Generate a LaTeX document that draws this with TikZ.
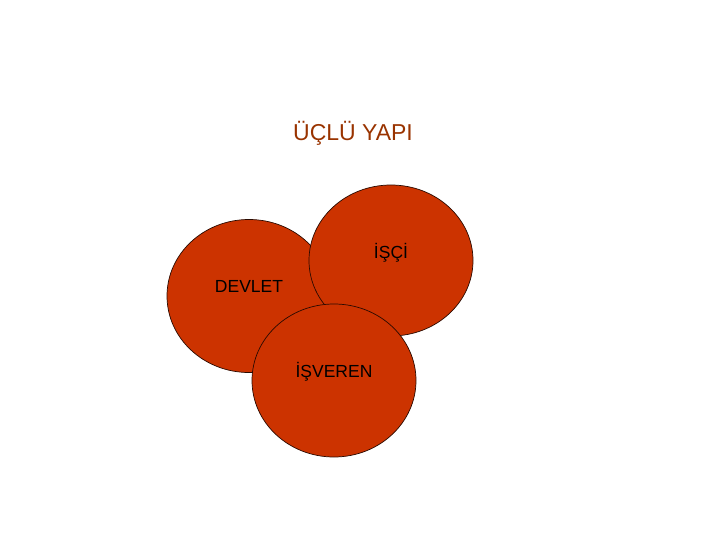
\documentclass[tikz,border=0pt]{standalone}
\usepackage{fontspec}
\setmainfont{Liberation Sans}
\usetikzlibrary{positioning,shapes.geometric}
\definecolor{brick}{HTML}{CC3300}
\definecolor{rust}{HTML}{993300}
\definecolor{rim}{HTML}{2A0A00}
\begin{document}
\begin{tikzpicture}[x=1pt, y=1pt,
    part/.style={ellipse, draw=rim, line width=0.7pt, fill=brick, minimum width=164pt, minimum height=153pt, inner sep=0pt},
    word/.style={text=black, font=\fontsize{17.5}{20}\selectfont, inner sep=0pt}]
  \useasboundingbox (0,0) rectangle (720,-540);
  % title
  \node[text=rust, font=\fontsize{23}{26}\selectfont] (title) at (353,-133) {ÜÇLÜ YAPI};

  % circles
  \node[part] (devlet) at (249,-296) {};
  \node[part, minimum height=151pt] (isci) at (391,-260.5) {};
  \node[part] (isveren) at (334,-380.5) {};

  % labels
  \node[word] (devletlbl) at ([yshift=10pt]devlet.center) {DEVLET};
  \node[word] (iscilbl) at ([yshift=8pt]isci.center) {İŞÇİ};
  \node[word] (isverenlbl) at ([yshift=9pt]isveren.center) {İŞVEREN};
\end{tikzpicture}
\end{document}
